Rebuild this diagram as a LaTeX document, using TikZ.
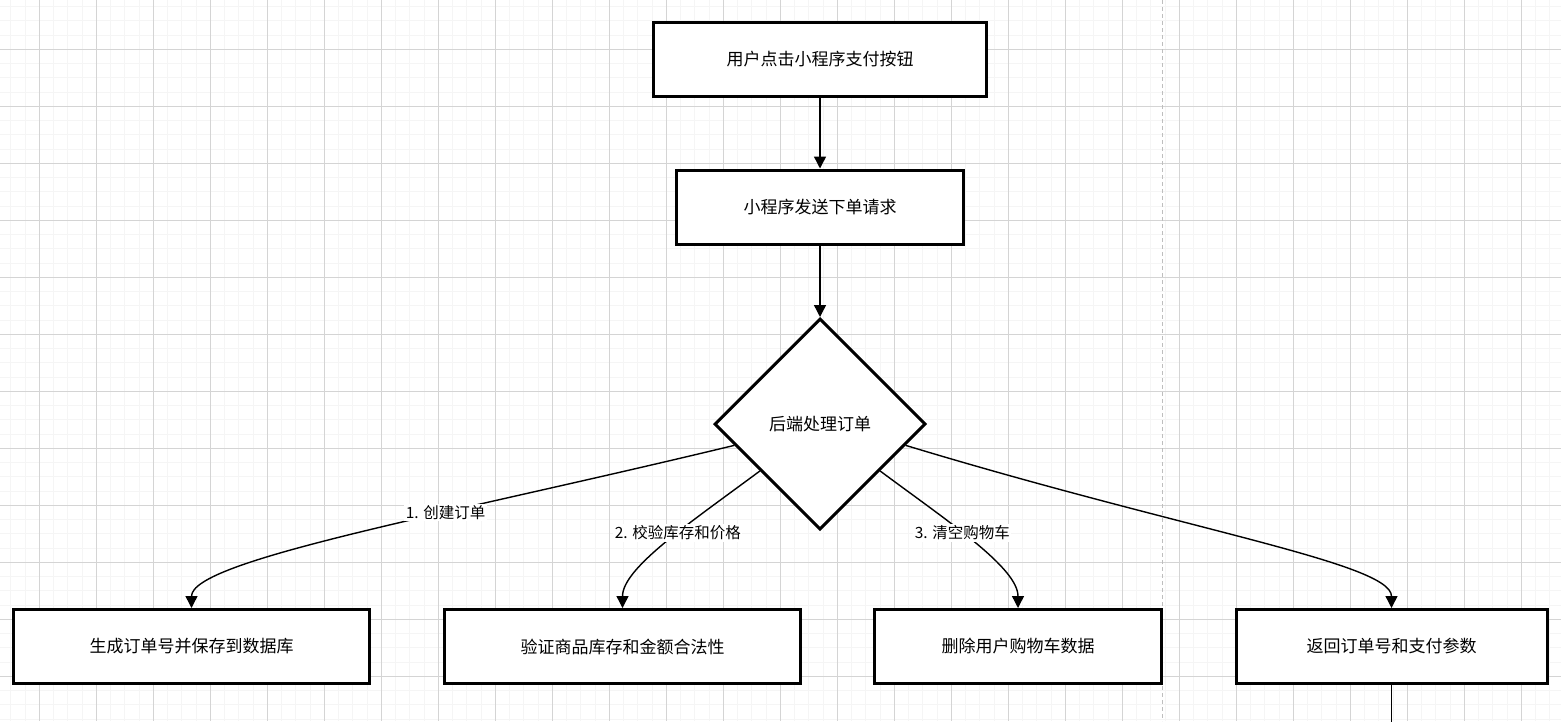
\documentclass[tikz,border=0pt]{standalone}
\usepackage{fontspec}
\setmainfont{Noto Sans CJK SC}
\usetikzlibrary{positioning, shapes.geometric, arrows.meta}
\usepackage{xcolor}
\definecolor{gridminor}{HTML}{F5F5F5}
\definecolor{gridmajor}{HTML}{D4D4D4}
\definecolor{splitgray}{HTML}{BEBEBE}

\begin{document}
\begin{tikzpicture}[x=1pt, y=-1pt,
	flow/.style={-{Triangle[length=12pt, width=12pt]}, line width=1.4pt},
	box/.style={rectangle, draw, line width=3pt, fill=white, minimum height=74pt, inner sep=0pt, font=\fontsize{17}{20}\selectfont},
	check/.style={diamond, draw, line width=3pt, fill=white, shape aspect=1, minimum size=211pt, inner sep=0pt, font=\fontsize{17}{20}\selectfont},
	lbl/.style={fill=white, inner sep=1.5pt, font=\fontsize{15.5}{18}\selectfont}]
	\useasboundingbox (0,0) rectangle (1561,721);
	\fill[white] (0,0) rectangle (1561,721);
	% background grid
	\foreach \i in {0,...,109} \draw[gridminor, line width=1pt] (10.8+14.25*\i,0) -- (10.8+14.25*\i,721);
	\foreach \i in {0,...,50} \draw[gridminor, line width=1pt] (0,6.55+14.25*\i) -- (1561,6.55+14.25*\i);
	\foreach \i in {0,...,27} \draw[gridmajor, line width=1pt] (39.3+57*\i,0) -- (39.3+57*\i,721);
	\foreach \i in {0,...,12} \draw[gridmajor, line width=1pt] (0,49.3+57*\i) -- (1561,49.3+57*\i);
	\draw[splitgray, line width=1.5pt, dash pattern=on 4pt off 3pt] (1162.7,0) -- (1162.7,721);

	\node[box, minimum width=333pt] (tap) at (820,59) {用户点击小程序支付按钮};
	\node[box, minimum width=287pt] (req) [below of=tap, node distance=148pt] {小程序发送下单请求};
	\node[check] (backend) [below of=req, node distance=217pt] {后端处理订单};
	\node[box, minimum width=356pt] (save) at (191.5,646.5) {生成订单号并保存到数据库};
	\node[box, minimum width=356pt] (verify) at (622.5,646.5) {验证商品库存和金额合法性};
	\node[box, minimum width=287pt] (cart) at (1018,646.5) {删除用户购物车数据};
	\node[box, minimum width=311pt] (reply) at (1391.5,646.5) {返回订单号和支付参数};
	\coordinate (exit) at (reply.south |- 0,730);

	\path[flow] (tap) edge (req);
	\path[flow] (req) edge (backend);
	\draw[flow] (backend.194) .. controls +(-290,70) and +(0,-48) .. (save.north) node[lbl, pos=0.36] {1. 创建订单};
	\draw[flow] (backend.218) .. controls +(-70,52) and +(0,-40) .. (verify.north) node[lbl, pos=0.42] {2. 校验库存和价格};
	\draw[flow] (backend.322) .. controls +(70,52) and +(0,-40) .. (cart.north) node[lbl, pos=0.42] {3. 清空购物车};
	\draw[flow] (backend.346) .. controls +(280,85) and +(0,-45) .. (reply.north);
	\draw[line width=1.4pt] (reply.south) -- (exit);
\end{tikzpicture}
\end{document}
